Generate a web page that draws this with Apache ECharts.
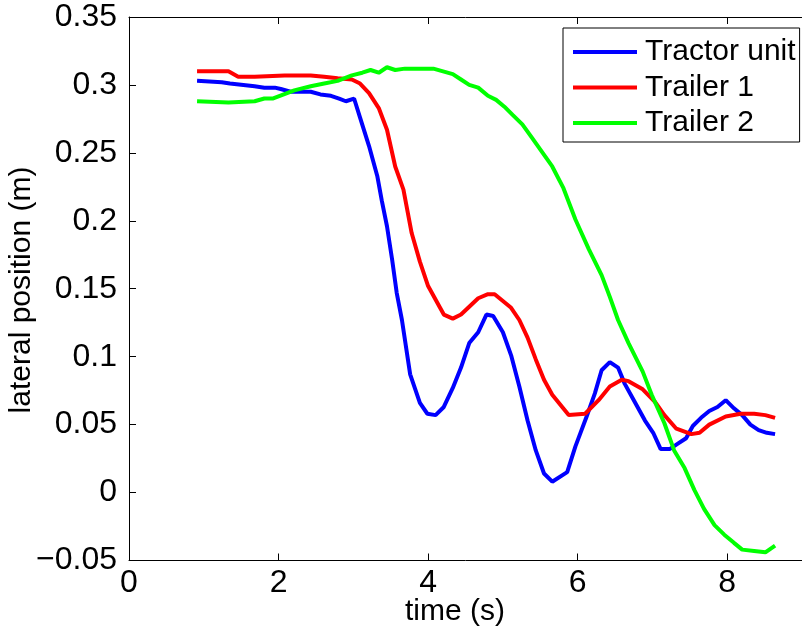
<!DOCTYPE html>
<html>
<head>
<meta charset="utf-8">
<script src="https://cdn.jsdelivr.net/npm/echarts@6/dist/echarts.min.js"></script>
<style>
  html, body { margin: 0; padding: 0; background: #fff; }
  #chart { width: 802px; height: 633px; }
</style>
</head>
<body>
<div id="chart"></div>
<script>
// Lateral position of each vehicle unit over time
const tractorTime = [0.91,1.24,1.35,1.68,1.81,1.95,2.03,2.16,2.43,2.56,2.70,2.81,2.90,3.01,3.09,3.21,3.32,3.38,3.45,3.52,3.58,3.65,3.76,3.89,3.99,4.10,4.21,4.33,4.44,4.55,4.67,4.78,4.87,5.00,5.11,5.22,5.33,5.44,5.55,5.66,5.86,5.97,6.12,6.23,6.32,6.43,6.54,6.63,6.76,6.90,7.01,7.11,7.23,7.34,7.45,7.54,7.65,7.76,7.87,7.98,8.09,8.20,8.31,8.42,8.53,8.64];
const tractorPos = [0.303,0.302,0.301,0.299,0.298,0.298,0.297,0.295,0.295,0.293,0.292,0.290,0.288,0.290,0.276,0.255,0.233,0.215,0.196,0.171,0.147,0.127,0.087,0.066,0.058,0.057,0.063,0.077,0.092,0.110,0.118,0.131,0.130,0.118,0.101,0.078,0.053,0.031,0.014,0.008,0.015,0.034,0.056,0.073,0.090,0.096,0.092,0.080,0.067,0.053,0.044,0.032,0.032,0.036,0.040,0.049,0.055,0.060,0.063,0.068,0.062,0.057,0.050,0.046,0.044,0.043];

const trailer1Time = [0.91,1.33,1.46,1.68,2.08,2.26,2.43,2.61,2.79,2.98,3.09,3.21,3.34,3.45,3.56,3.67,3.78,3.89,4.00,4.16,4.21,4.33,4.44,4.67,4.80,4.89,5.11,5.22,5.33,5.44,5.55,5.66,5.88,6.10,6.28,6.43,6.59,6.68,6.87,7.03,7.16,7.32,7.52,7.63,7.76,7.98,8.18,8.36,8.51,8.64];
const trailer1Pos = [0.310,0.310,0.306,0.306,0.307,0.307,0.307,0.306,0.305,0.304,0.301,0.294,0.283,0.267,0.240,0.223,0.191,0.170,0.152,0.136,0.131,0.128,0.131,0.143,0.146,0.146,0.136,0.127,0.114,0.098,0.083,0.072,0.057,0.058,0.068,0.078,0.083,0.082,0.076,0.067,0.057,0.047,0.043,0.044,0.050,0.056,0.058,0.058,0.057,0.055];

const trailer2Time = [0.91,1.33,1.68,1.81,1.92,2.21,2.43,2.61,2.79,2.98,3.12,3.23,3.34,3.45,3.56,3.69,4.07,4.20,4.33,4.44,4.55,4.67,4.80,4.91,5.02,5.13,5.26,5.39,5.66,5.81,5.97,6.15,6.32,6.43,6.54,6.68,6.87,6.99,7.16,7.29,7.43,7.56,7.69,7.83,7.96,8.09,8.20,8.36,8.51,8.64];
const trailer2Pos = [0.288,0.287,0.288,0.290,0.290,0.296,0.299,0.301,0.303,0.307,0.309,0.311,0.309,0.313,0.311,0.312,0.312,0.310,0.308,0.304,0.300,0.298,0.292,0.289,0.284,0.278,0.271,0.261,0.240,0.224,0.201,0.179,0.160,0.144,0.127,0.110,0.089,0.072,0.051,0.031,0.018,0.002,-0.012,-0.024,-0.031,-0.037,-0.042,-0.043,-0.044,-0.039];

const seriesNames = ['Tractor unit', 'Trailer 1', 'Trailer 2'];
const seriesColors = ['#0000ff', '#ff0000', '#00ff00'];
const xTicks = [0, 2, 4, 6, 8];
const yTicks = [-0.05, 0, 0.05, 0.1, 0.15, 0.2, 0.25, 0.3, 0.35];
const yTickLabels = ['\u22120.05', '0', '0.05', '0.1', '0.15', '0.2', '0.25', '0.3', '0.35'];

const FONT = '"Liberation Sans", Arial, Helvetica, sans-serif';
const pairs = (t, v) => t.map((x, i) => [x, v[i]]);

const chart = echarts.init(document.getElementById('chart'), null, { renderer: 'canvas' });

const axisLine = { show: true, onZero: false, lineStyle: { color: '#000', width: 1 } };
const tickStyle = { show: true, inside: true, length: 7, lineStyle: { color: '#000', width: 1 } };

const option = {
  animation: false,
  backgroundColor: '#fff',
  grid: { left: 129, top: 17, width: 680, height: 543.5, containLabel: false },
  xAxis: [
    {
      type: 'value', position: 'bottom', min: 0, max: 9,
      axisLine: axisLine, splitLine: { show: false },
      axisTick: Object.assign({}, tickStyle, { customValues: xTicks }),
      axisLabel: { customValues: xTicks, color: '#000', fontSize: 32, fontFamily: FONT, margin: 7,
                   formatter: v => String(v) }
    },
    {
      type: 'value', position: 'top', min: 0, max: 9,
      axisLine: axisLine, splitLine: { show: false },
      axisTick: Object.assign({}, tickStyle, { customValues: xTicks }),
      axisLabel: { show: false }
    }
  ],
  yAxis: [
    {
      type: 'value', position: 'left', min: -0.05, max: 0.35,
      axisLine: axisLine, splitLine: { show: false },
      axisTick: Object.assign({}, tickStyle, { customValues: yTicks }),
      axisLabel: { customValues: yTicks, color: '#000', fontSize: 32, fontFamily: FONT, margin: 12,
                   formatter: v => {
                     const i = yTicks.findIndex(t => Math.abs(t - v) < 1e-9);
                     return i >= 0 ? yTickLabels[i] : '';
                   } }
    }
  ],
  legend: {
    orient: 'vertical',
    left: 563, top: 28,
    padding: [9, 4, 4, 10],
    icon: 'rect',
    itemWidth: 64, itemHeight: 4, itemGap: 5.5,
    backgroundColor: '#fff',
    borderColor: '#000', borderWidth: 1, borderRadius: 0,
    textStyle: { color: '#000', fontSize: 30, fontFamily: FONT, lineHeight: 30, padding: [0, 0, 0, 3] },
    data: seriesNames
  },
  graphic: [
    { type: 'text', x: 455, y: 612,
      style: { text: 'time (s)', fill: '#000', font: '30px ' + FONT, textAlign: 'center', textVerticalAlign: 'middle' } },
    { type: 'text', rotation: Math.PI / 2, x: 22, y: 290,
      style: { text: 'lateral position (m)', fill: '#000', font: '30px ' + FONT, textAlign: 'center', textVerticalAlign: 'middle' } }
  ],
  series: [
    { name: seriesNames[0], type: 'line', data: pairs(tractorTime, tractorPos), symbol: 'none',
      lineStyle: { color: seriesColors[0], width: 4 }, itemStyle: { color: seriesColors[0] }, z: 3 },
    { name: seriesNames[1], type: 'line', data: pairs(trailer1Time, trailer1Pos), symbol: 'none',
      lineStyle: { color: seriesColors[1], width: 4 }, itemStyle: { color: seriesColors[1] }, z: 3 },
    { name: seriesNames[2], type: 'line', data: pairs(trailer2Time, trailer2Pos), symbol: 'none',
      lineStyle: { color: seriesColors[2], width: 4 }, itemStyle: { color: seriesColors[2] }, z: 3 }
  ]
};

chart.setOption(option);
</script>
</body>
</html>
